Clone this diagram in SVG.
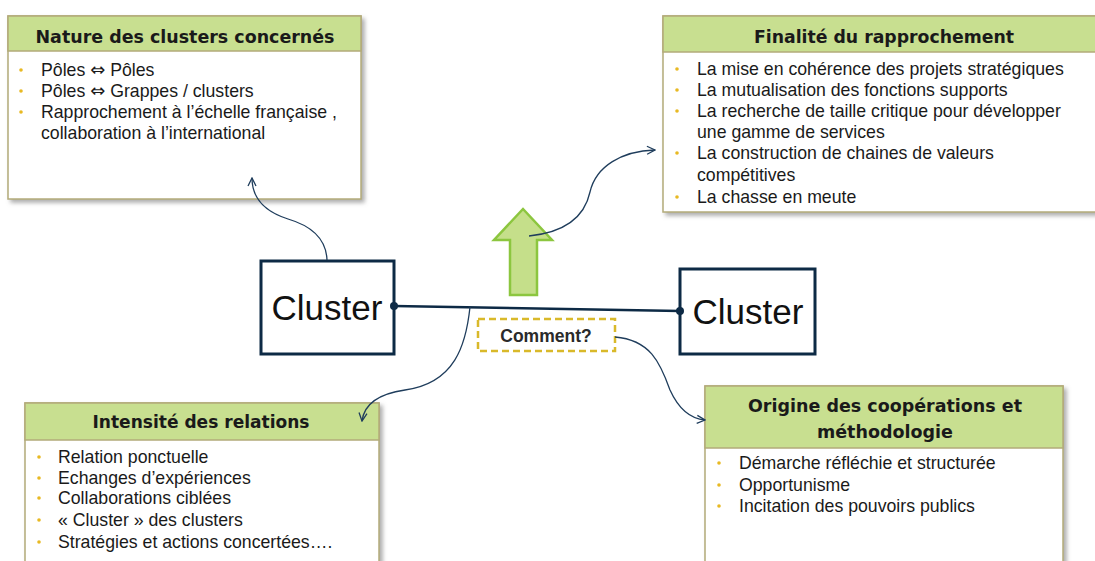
<svg xmlns="http://www.w3.org/2000/svg" width="1095" height="561" viewBox="0 0 1095 561">
<defs>
<style>
.box{fill:#fff;stroke:#b3ab7a;stroke-width:1.5}
.hdr{fill:#c8df90;stroke:#b3ab7a;stroke-width:1.5}
.ttl{font-family:"DejaVu Sans",Verdana,sans-serif;font-weight:bold;font-size:17px;fill:#1a1a1a;text-anchor:middle}
.itm{font-family:"Liberation Sans",Arial,sans-serif;font-size:17.7px;fill:#1a1a1a}
.sym{font-family:"DejaVu Sans",sans-serif;font-size:18px}
.bul{fill:#e8b923}
.cl{fill:#fff;stroke:#0d2a45;stroke-width:3}
.clt{font-family:"Liberation Sans",Arial,sans-serif;font-size:35px;fill:#111;text-anchor:middle}
.cur{fill:none;stroke:#1f3d5c;stroke-width:1.3}
</style>
<filter id="sh" x="-5%" y="-5%" width="115%" height="115%">
<feDropShadow dx="3" dy="3" stdDeviation="2" flood-color="#777" flood-opacity="0.6"/>
</filter>
<marker id="ah" viewBox="0 0 10 10" refX="9" refY="5" markerWidth="10" markerHeight="10" markerUnits="userSpaceOnUse" orient="auto">
<path d="M1,1 L9,5 L1,9" fill="none" stroke="#1f3d5c" stroke-width="1.3"/>
</marker>
</defs>
<rect width="1095" height="561" fill="#fff"/>

<g id="nature">
<rect class="box" x="8" y="16" width="353" height="183" filter="url(#sh)"/>
<rect class="hdr" x="8" y="16" width="353" height="35"/>
<text class="ttl" x="185" y="43" textLength="299" lengthAdjust="spacingAndGlyphs">Nature des clusters concernés</text>
<circle class="bul" cx="21" cy="70" r="1.8"/>
<circle class="bul" cx="21" cy="91" r="1.8"/>
<circle class="bul" cx="21" cy="112" r="1.8"/>
<text class="itm" x="41" y="76">Pôles <tspan class="sym">⇔</tspan> Pôles</text>
<text class="itm" x="41" y="97">Pôles <tspan class="sym">⇔</tspan> Grappes / clusters</text>
<text class="itm" x="41" y="118">Rapprochement à l’échelle française ,</text>
<text class="itm" x="41" y="139">collaboration à l’international</text>
</g>

<g id="finalite">
<rect class="box" x="663" y="16" width="440" height="196" filter="url(#sh)"/>
<rect class="hdr" x="663" y="16" width="440" height="36"/>
<text class="ttl" x="884" y="43" textLength="260" lengthAdjust="spacingAndGlyphs">Finalité du rapprochement</text>
<circle class="bul" cx="677" cy="69" r="1.8"/>
<circle class="bul" cx="677" cy="90" r="1.8"/>
<circle class="bul" cx="677" cy="111" r="1.8"/>
<circle class="bul" cx="677" cy="153" r="1.8"/>
<circle class="bul" cx="677" cy="197" r="1.8"/>
<text class="itm" x="697" y="75">La mise en cohérence des projets stratégiques</text>
<text class="itm" x="697" y="96">La mutualisation des fonctions supports</text>
<text class="itm" x="697" y="117">La recherche de taille critique  pour développer</text>
<text class="itm" x="697" y="138">une gamme de services</text>
<text class="itm" x="697" y="159">La construction de chaines de valeurs</text>
<text class="itm" x="697" y="181">compétitives</text>
<text class="itm" x="697" y="203">La chasse en meute</text>
</g>

<g id="intensite">
<rect class="box" x="25" y="403" width="354" height="170" filter="url(#sh)"/>
<rect class="hdr" x="25" y="403" width="354" height="37"/>
<text class="ttl" x="201" y="428" textLength="217" lengthAdjust="spacingAndGlyphs">Intensité des relations</text>
<circle class="bul" cx="39" cy="457" r="1.8"/>
<circle class="bul" cx="39" cy="478" r="1.8"/>
<circle class="bul" cx="39" cy="498" r="1.8"/>
<circle class="bul" cx="39" cy="520" r="1.8"/>
<circle class="bul" cx="39" cy="542" r="1.8"/>
<text class="itm" x="58" y="463">Relation ponctuelle</text>
<text class="itm" x="58" y="484">Echanges d’expériences</text>
<text class="itm" x="58" y="504">Collaborations ciblées</text>
<text class="itm" x="58" y="526">« Cluster » des clusters</text>
<text class="itm" x="58" y="548">Stratégies et actions concertées….</text>
</g>

<g id="origine">
<rect class="box" x="705" y="386" width="358" height="190" filter="url(#sh)"/>
<rect class="hdr" x="705" y="386" width="358" height="62"/>
<text class="ttl" x="885" y="412" textLength="274" lengthAdjust="spacingAndGlyphs">Origine des coopérations et</text>
<text class="ttl" x="885" y="438" textLength="136" lengthAdjust="spacingAndGlyphs">méthodologie</text>
<circle class="bul" cx="719" cy="463" r="1.8"/>
<circle class="bul" cx="719" cy="485" r="1.8"/>
<circle class="bul" cx="719" cy="506" r="1.8"/>
<text class="itm" x="739" y="469">Démarche réfléchie et structurée</text>
<text class="itm" x="739" y="491">Opportunisme</text>
<text class="itm" x="739" y="512">Incitation des pouvoirs publics</text>
</g>

<g id="arrow-up">
<path d="M510,295 L510,240 L494,240 L523,209 L552,240 L537,240 L537,295 Z" fill="#c5df8a" stroke="#8cc63f" stroke-width="2.5" stroke-linejoin="miter"/>
</g>

<g id="cluster-left">
<rect class="cl" x="261" y="261" width="133" height="93"/>
<text class="clt" x="327" y="320">Cluster</text>
</g>

<g id="cluster-right">
<rect class="cl" x="680" y="269" width="135" height="85"/>
<text class="clt" x="748" y="324">Cluster</text>
</g>

<g id="comment">
<rect x="478" y="319" width="137" height="32" fill="#fff" stroke="#d9b92a" stroke-width="2.5" stroke-dasharray="7,4"/>
<text x="546" y="342" font-family="Liberation Sans, Arial, sans-serif" font-weight="bold" font-size="17.5px" fill="#2a2a2a" text-anchor="middle">Comment?</text>
</g>

<g id="connectors">
<line x1="394" y1="306" x2="680" y2="311" stroke="#0d2a45" stroke-width="2.5"/>
<circle cx="394" cy="306" r="4" fill="#0d2a45"/>
<circle cx="680" cy="311" r="4" fill="#0d2a45"/>
<path class="cur" d="M327,260 C326,235 305,224 288,219 C266,212 252,200 252,178" marker-end="url(#ah)"/>
<path class="cur" d="M529,236 C568,232 585,215 590,192 C596,166 622,151 655,150" marker-end="url(#ah)"/>
<path class="cur" d="M470,307 C466,345 455,383 405,390 C377,394 364,405 362,421" marker-end="url(#ah)"/>
<path class="cur" d="M615,337 C650,340 660,362 670,390 C680,412 693,419 705,420" marker-end="url(#ah)"/>
</g>
</svg>
